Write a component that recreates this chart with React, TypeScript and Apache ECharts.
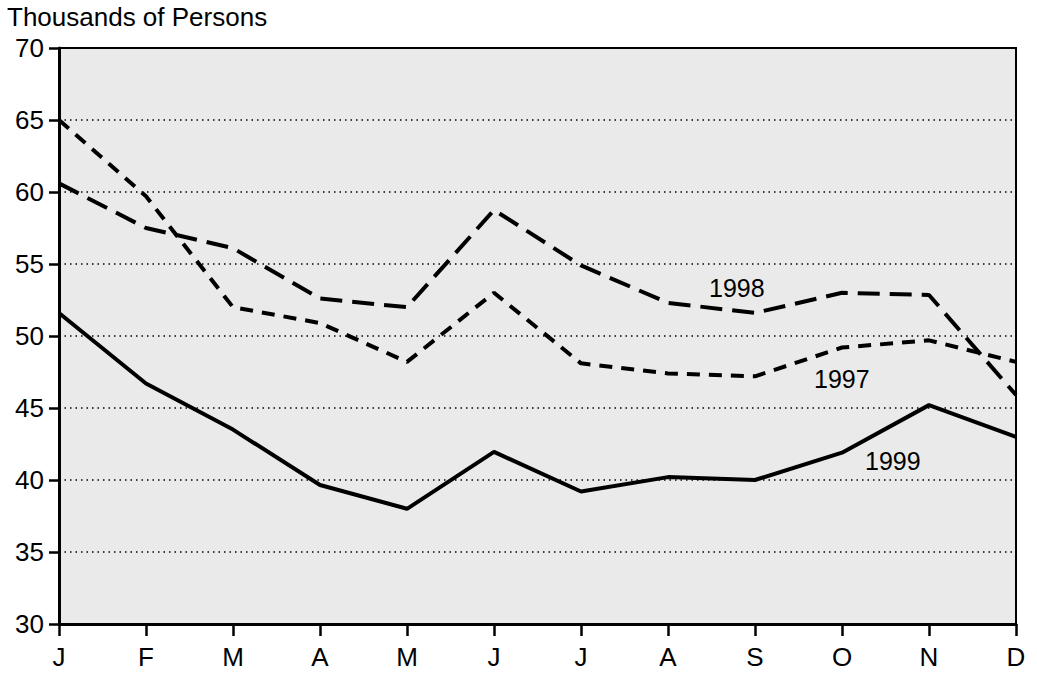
import React, { useEffect, useRef } from "react";
import * as echarts from "echarts";

const months = ["J", "F", "M", "A", "M", "J", "J", "A", "S", "O", "N", "D"];
const y1997 = [65.0, 59.7, 52.0, 50.9, 48.2, 53.0, 48.1, 47.4, 47.2, 49.2, 49.7, 48.2];
const y1998 = [60.6, 57.5, 56.1, 52.6, 52.0, 58.75, 54.9, 52.3, 51.6, 53.0, 52.85, 45.9];
const y1999 = [51.6, 46.7, 43.5, 39.65, 38.0, 41.95, 39.2, 40.2, 40.0, 41.9, 45.2, 43.0];
const seriesLabels = ["1998", "1997", "1999"];

const FONT = "Liberation Sans, Arial, Helvetica, sans-serif";

export default function App() {
  const ref = useRef<HTMLDivElement>(null);
  useEffect(() => {
    if (!ref.current) return;
    const chart = echarts.init(ref.current, null, { renderer: "svg" });
    const lineBase = { type: "line", symbol: "none", silent: true };
    chart.setOption({
      animation: false,
      backgroundColor: "#fff",
      title: {
        text: "Thousands of Persons",
        left: 7,
        top: 4,
        padding: 0,
        textStyle: { fontFamily: FONT, fontSize: 26, fontWeight: "normal", color: "#000" },
      },
      grid: {
        left: 59,
        right: 21,
        top: 48,
        bottom: 51,
        show: true,
        backgroundColor: "#eaeaea",
        borderColor: "#000",
        borderWidth: 2,
      },
      xAxis: {
        type: "category",
        data: months,
        boundaryGap: false,
        axisLine: { show: true, lineStyle: { color: "#000", width: 3 } },
        axisTick: { show: true, length: 12, lineStyle: { color: "#000", width: 2.5 }, alignWithLabel: true },
        axisLabel: { color: "#000", fontFamily: FONT, fontSize: 26, margin: 20, interval: 0 },
        splitLine: { show: false },
      },
      yAxis: {
        type: "value",
        min: 30,
        max: 70,
        interval: 5,
        axisLine: { show: true, lineStyle: { color: "#000", width: 3 } },
        axisTick: { show: true, length: 10, lineStyle: { color: "#000", width: 2.5 } },
        axisLabel: { color: "#000", fontFamily: FONT, fontSize: 26, margin: 15 },
        splitLine: { show: true, lineStyle: { color: "#000", width: 1.5, type: [1.5, 4] } },
      },
      series: [
        { ...lineBase, name: "1999", data: y1999, lineStyle: { color: "#000", width: 4 } },
        { ...lineBase, name: "1998", data: y1998, lineStyle: { color: "#000", width: 4, type: [22, 10] } },
        { ...lineBase, name: "1997", data: y1997, lineStyle: { color: "#000", width: 4, type: [13, 9] } },
      ],
      graphic: [
        { type: "text", left: 709, top: 275, style: { text: seriesLabels[0], font: `25px ${FONT}`, fill: "#000" } },
        { type: "text", left: 814, top: 366, style: { text: seriesLabels[1], font: `25px ${FONT}`, fill: "#000" } },
        { type: "text", left: 865, top: 448, style: { text: seriesLabels[2], font: `25px ${FONT}`, fill: "#000" } },
      ],
    });
    return () => chart.dispose();
  }, []);
  return <div ref={ref} style={{ width: 1037, height: 675, position: "absolute", left: 0, top: 0 }} />;
}
